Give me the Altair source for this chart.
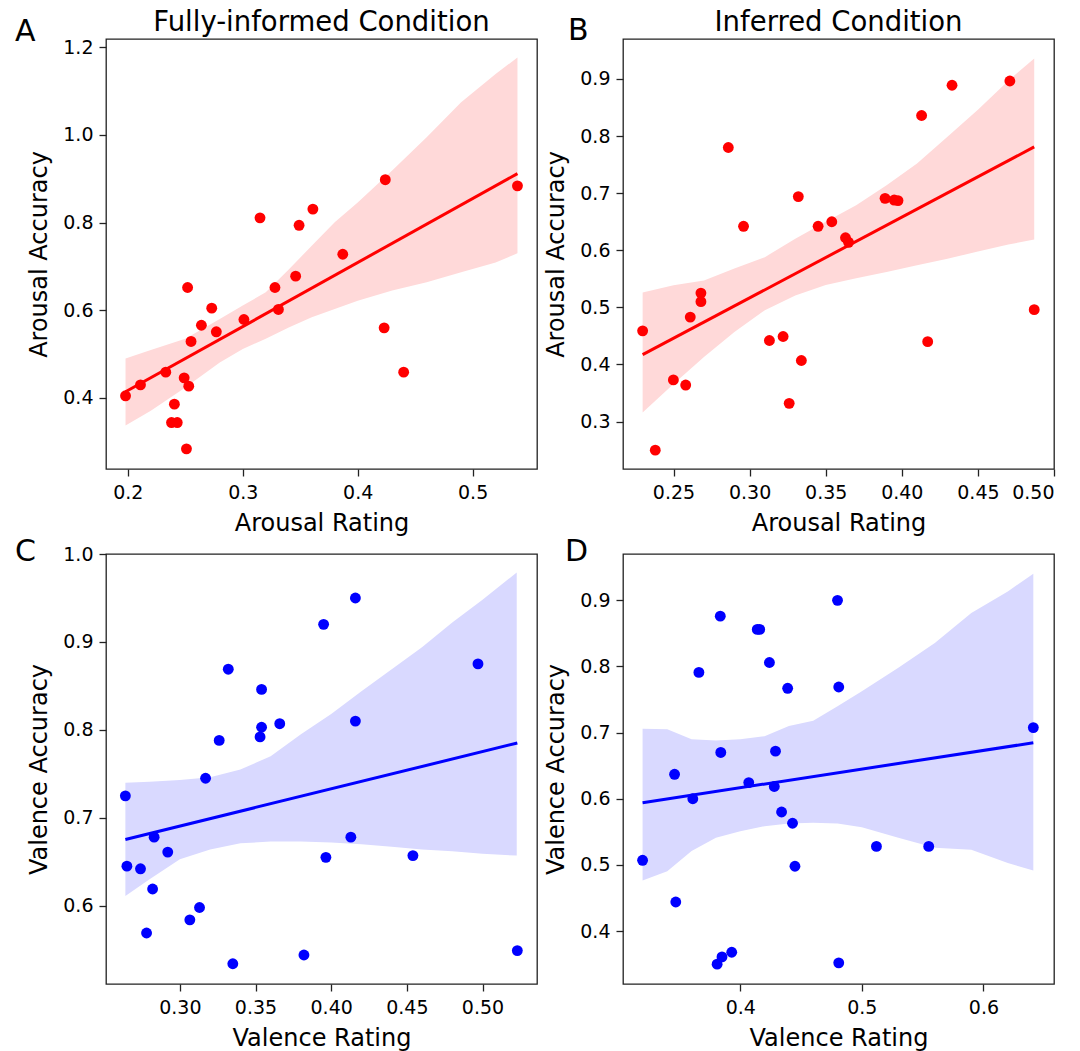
import altair as alt
import pandas as pd

# ---------------- data ----------------
A_x = [0.198, 0.211, 0.233, 0.2405, 0.238, 0.243, 0.251, 0.249, 0.253, 0.252, 0.255, 0.264, 0.273,
       0.277, 0.301, 0.315, 0.328, 0.331, 0.346, 0.349, 0.361, 0.387, 0.424, 0.423, 0.440, 0.539]
A_y = [0.405, 0.430, 0.459, 0.386, 0.344, 0.344, 0.284, 0.446, 0.427, 0.652, 0.529, 0.566, 0.605,
       0.551, 0.579, 0.811, 0.652, 0.602, 0.678, 0.794, 0.831, 0.728, 0.898, 0.560, 0.459, 0.884]

B_x = [0.2297, 0.238, 0.2499, 0.258, 0.261, 0.268, 0.268, 0.286, 0.296, 0.313, 0.322, 0.326, 0.332,
       0.334, 0.345, 0.354, 0.363, 0.365, 0.389, 0.395, 0.3975, 0.413, 0.417, 0.433, 0.471, 0.487]
B_y = [0.459, 0.250, 0.373, 0.364, 0.483, 0.525, 0.510, 0.780, 0.642, 0.442, 0.449, 0.332, 0.694,
       0.407, 0.642, 0.650, 0.622, 0.614, 0.691, 0.688, 0.687, 0.836, 0.440, 0.889, 0.8965, 0.496]

C_x = [0.264, 0.265, 0.274, 0.278, 0.282, 0.283, 0.292, 0.3066, 0.313, 0.317, 0.326, 0.332, 0.335,
       0.353, 0.354, 0.354, 0.366, 0.382, 0.395, 0.3965, 0.413, 0.416, 0.416, 0.454, 0.497, 0.523]
C_y = [0.725, 0.645, 0.642, 0.569, 0.619, 0.678, 0.661, 0.584, 0.598, 0.745, 0.788, 0.869, 0.534,
       0.792, 0.803, 0.846, 0.807, 0.544, 0.920, 0.655, 0.678, 0.950, 0.810, 0.657, 0.875, 0.549]

D_x = [0.3197, 0.346, 0.347, 0.361, 0.366, 0.381, 0.3836, 0.384, 0.385, 0.393, 0.407, 0.414, 0.416,
       0.424, 0.428, 0.429, 0.434, 0.439, 0.443, 0.445, 0.480, 0.481, 0.481, 0.512, 0.555, 0.641]
D_y = [0.507, 0.637, 0.444, 0.600, 0.791, 0.350, 0.876, 0.670, 0.361, 0.368, 0.6245, 0.856, 0.856,
       0.806, 0.6185, 0.672, 0.580, 0.767, 0.563, 0.498, 0.900, 0.769, 0.352, 0.528, 0.528, 0.7076]

# confidence bands
A_bx = [0.198, 0.22, 0.25, 0.28, 0.30, 0.32, 0.34, 0.36, 0.38, 0.40, 0.43, 0.46, 0.49, 0.52, 0.539]
A_lo = [0.337, 0.371, 0.424, 0.481, 0.512, 0.535, 0.561, 0.584, 0.603, 0.622, 0.645, 0.664, 0.687, 0.709, 0.730]
A_hi = [0.490, 0.5095, 0.535, 0.580, 0.611, 0.641, 0.693, 0.7475, 0.801, 0.846, 0.919, 0.995, 1.0745, 1.139, 1.177]

B_bx = [0.2297, 0.25, 0.27, 0.29, 0.31, 0.33, 0.35, 0.37, 0.39, 0.41, 0.43, 0.45, 0.47, 0.487]
B_lo = [0.316, 0.366, 0.413, 0.457, 0.495, 0.521, 0.539, 0.551, 0.562, 0.574, 0.585, 0.598, 0.610, 0.619]
B_hi = [0.526, 0.5386, 0.547, 0.568, 0.588, 0.620, 0.650, 0.679, 0.714, 0.752, 0.799, 0.846, 0.897, 0.936]

C_bx = [0.264, 0.28, 0.30, 0.32, 0.34, 0.36, 0.38, 0.40, 0.42, 0.44, 0.46, 0.48, 0.50, 0.5226]
C_lo = [0.611, 0.630, 0.653, 0.664, 0.671, 0.673, 0.673, 0.672, 0.670, 0.667, 0.664, 0.662, 0.659, 0.657]
C_hi = [0.740, 0.741, 0.743, 0.746, 0.755, 0.770, 0.795, 0.818, 0.844, 0.869, 0.894, 0.922, 0.948, 0.979]

D_bx = [0.3197, 0.34, 0.36, 0.38, 0.40, 0.42, 0.44, 0.46, 0.48, 0.50, 0.53, 0.56, 0.59, 0.62, 0.641]
D_lo = [0.4765, 0.4906, 0.521, 0.541, 0.551, 0.5586, 0.5626, 0.5637, 0.5626, 0.557, 0.541, 0.526, 0.523, 0.503, 0.4915]
D_hi = [0.706, 0.705, 0.690, 0.688, 0.690, 0.6946, 0.710, 0.718, 0.740, 0.7625, 0.798, 0.8355, 0.881, 0.9135, 0.940]

# axes
A_xticks = [0.2, 0.3, 0.4, 0.5]
A_yticks = [0.4, 0.6, 0.8, 1.0, 1.2]
B_xticks = [0.25, 0.30, 0.35, 0.40, 0.45, 0.50]
B_yticks = [0.3, 0.4, 0.5, 0.6, 0.7, 0.8, 0.9]
C_xticks = [0.30, 0.35, 0.40, 0.45, 0.50]
C_yticks = [0.6, 0.7, 0.8, 0.9, 1.0]
D_xticks = [0.4, 0.5, 0.6]
D_yticks = [0.4, 0.5, 0.6, 0.7, 0.8, 0.9]

A_xdom, A_ydom = [0.181, 0.556], [0.238, 1.219]
B_xdom, B_ydom = [0.2168, 0.500], [0.217, 0.970]
C_xdom, C_ydom = [0.2512, 0.536], [0.511, 1.000]
D_xdom, D_ydom = [0.3036, 0.658], [0.320, 0.970]

W, H = 431, 430
FONT = "DejaVu Sans"


def panel(xs, ys, bx, lo, hi, color, band, xdom, ydom, xt, yt, xfmt, yfmt,
          xtitle, ytitle, letter, lx, ly, title=None):
    pts = pd.DataFrame({"x": xs, "y": ys})
    bnd = pd.DataFrame({"x": bx, "lo": lo, "hi": hi})
    xs_ = alt.Scale(domain=xdom, nice=False, zero=False)
    ys_ = alt.Scale(domain=ydom, nice=False, zero=False)
    xax = alt.Axis(values=xt, format=xfmt, title=xtitle)
    yax = alt.Axis(values=yt, format=yfmt, title=ytitle)

    area = alt.Chart(bnd).mark_area(color=band, opacity=1, clip=True).encode(
        x=alt.X("x:Q", scale=xs_, axis=xax),
        y=alt.Y("lo:Q", scale=ys_, axis=yax),
        y2="hi:Q",
    )
    line = alt.Chart(pts).transform_regression("x", "y").mark_line(
        color=color, strokeWidth=3, clip=True).encode(
        x=alt.X("x:Q", scale=xs_), y=alt.Y("y:Q", scale=ys_))
    dots = alt.Chart(pts).mark_circle(color=color, size=118, opacity=1).encode(
        x=alt.X("x:Q", scale=xs_), y=alt.Y("y:Q", scale=ys_))
    lab = alt.Chart(pd.DataFrame({"t": [letter]})).mark_text(
        align="left", baseline="alphabetic", fontSize=30, font=FONT, color="black").encode(
        x=alt.value(lx), y=alt.value(ly), text="t:N")
    layers = [area, line, dots, lab]
    if title:
        ttl = alt.Chart(pd.DataFrame({"t": [title]})).mark_text(
            align="center", baseline="alphabetic", fontSize=27.5, font=FONT, color="black").encode(
            x=alt.value(W / 2), y=alt.value(-8), text="t:N")
        layers.append(ttl)
    return alt.layer(*layers).properties(width=W, height=H)


RED, RBAND = "#ff0000", "#ffd9d9"
BLUE, BBAND = "#0000ff", "#d9d9ff"

pA = panel(A_x, A_y, A_bx, A_lo, A_hi, RED, RBAND, A_xdom, A_ydom, A_xticks, A_yticks, ".1f", ".1f",
           "Arousal Rating", "Arousal Accuracy", "A", -91, 2, "Fully-informed Condition")
pB = panel(B_x, B_y, B_bx, B_lo, B_hi, RED, RBAND, B_xdom, B_ydom, B_xticks, B_yticks, ".2f", ".1f",
           "Arousal Rating", "Arousal Accuracy", "B", -55, 1, "Inferred Condition")
pC = panel(C_x, C_y, C_bx, C_lo, C_hi, BLUE, BBAND, C_xdom, C_ydom, C_xticks, C_yticks, ".2f", ".1f",
           "Valence Rating", "Valence Accuracy", "C", -91, 7)
pD = panel(D_x, D_y, D_bx, D_lo, D_hi, BLUE, BBAND, D_xdom, D_ydom, D_xticks, D_yticks, ".1f", ".1f",
           "Valence Rating", "Valence Accuracy", "D", -58, 7)

chart = alt.concat(pA, pB, pC, pD, columns=2, spacing={"row": 85, "column": 86}, bounds="flush").properties(
    padding={"left": 6, "top": 0, "right": 5, "bottom": 0}
).configure_axis(
    labelFont=FONT, titleFont=FONT, labelFontSize=19, titleFontSize=24, titleFontWeight="normal",
    labelColor="black", titleColor="black", grid=False, domain=False,
    tickSize=7, tickColor="#222222", tickWidth=1.3,
).configure_axisX(labelPadding=7, titlePadding=9).configure_axisY(
    labelPadding=6, titlePadding=11
).configure_view(stroke="#222222", strokeWidth=1.3)

chart.save("out.html", embed_options={"renderer": "svg", "actions": False})
